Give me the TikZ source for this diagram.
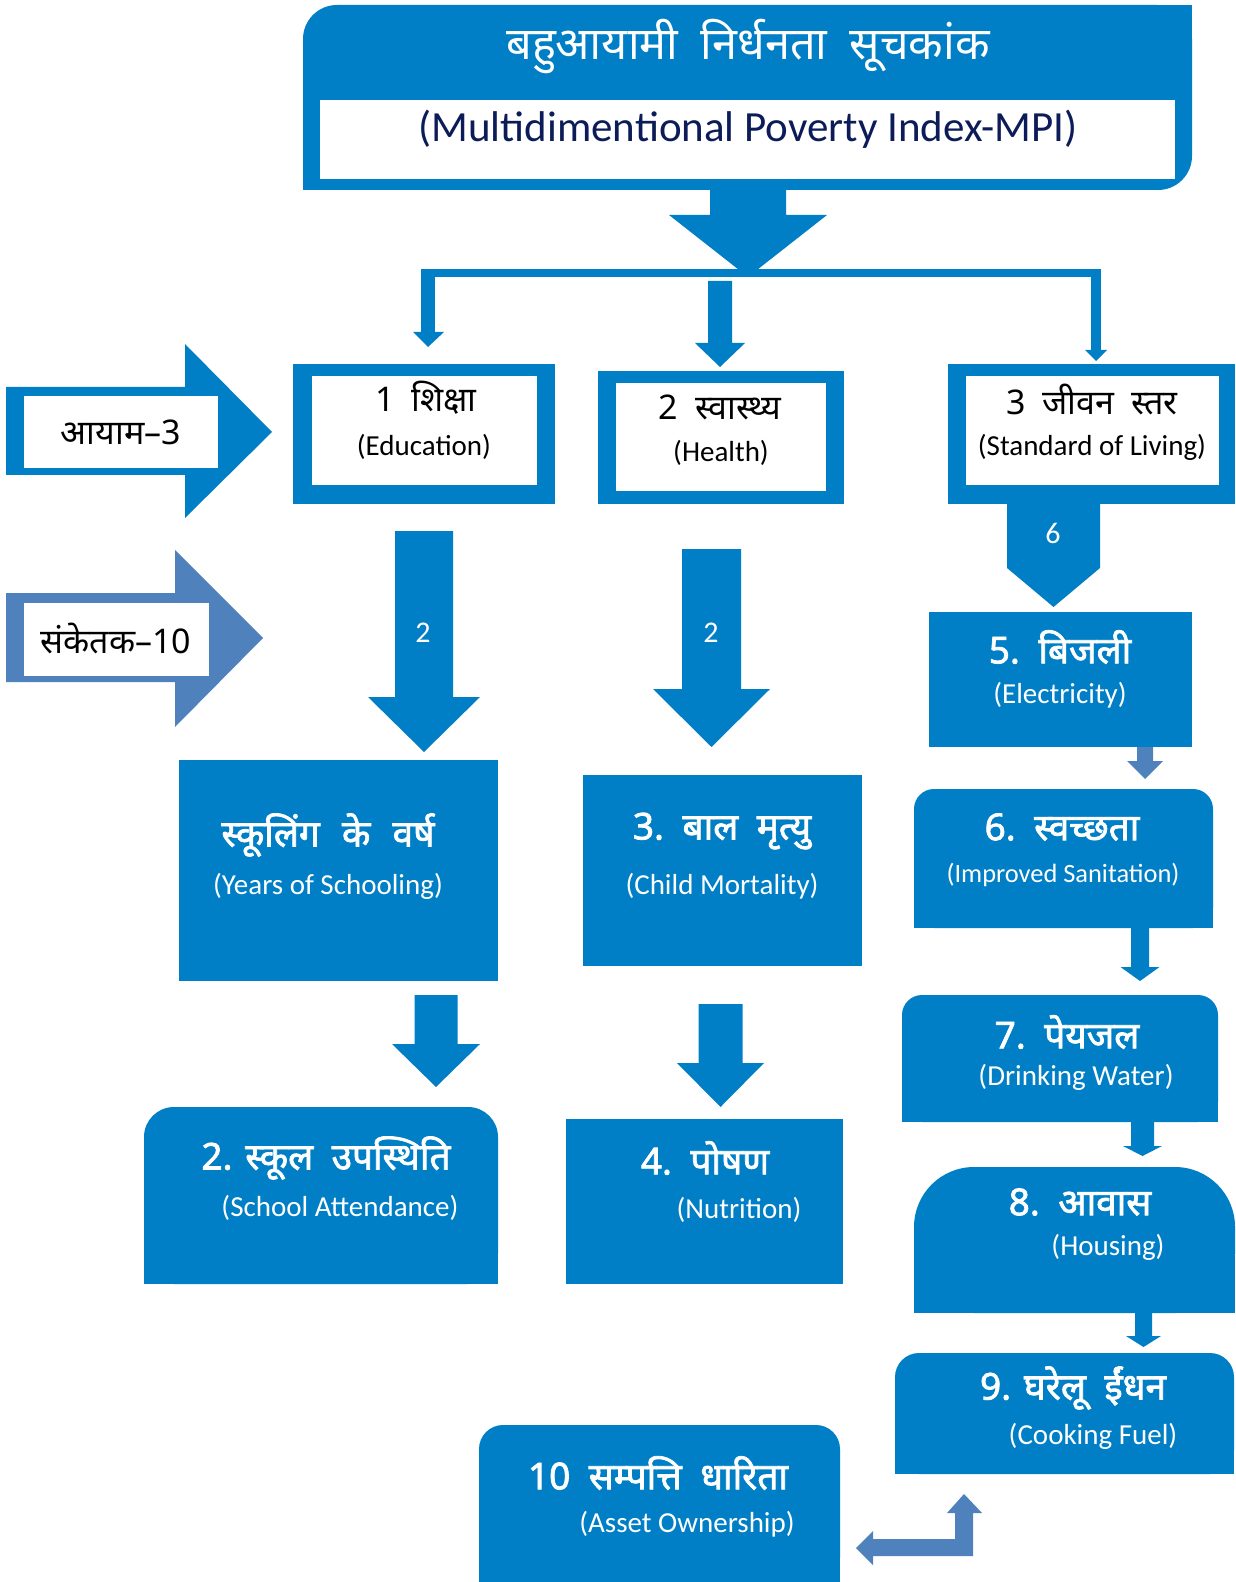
\documentclass[tikz,border=0pt]{standalone}
\usepackage{fontspec}
\setmainfont{Carlito}
\newfontfamily\dev[Script=Devanagari]{Noto Sans}
\newfontfamily\devb[Script=Devanagari,FakeBold=2]{Noto Sans}
\usetikzlibrary{fit}
\definecolor{mblue}{RGB}{0,127,198}
\definecolor{lblue}{RGB}{79,129,189}
\definecolor{navy}{RGB}{12,28,88}
\tikzset{
  box/.style={fill=mblue, inner sep=0pt, outer sep=0pt},
  lbox/.style={fill=lblue, inner sep=0pt, outer sep=0pt},
  wbox/.style={fill=white, inner sep=0pt, outer sep=0pt},
  en/.style={font=\fontsize{14.5}{16}\selectfont, inner sep=0pt, text=white},
  enb/.style={font=\fontsize{14.5}{16}\selectfont, inner sep=0pt, text=black},
  hd/.style={font=\devb\fontsize{18.5}{21}\selectfont, inner sep=0pt, text=white},
  hdb/.style={font=\dev\fontsize{17}{20}\selectfont, inner sep=0pt, text=black},
  num/.style={font=\fontsize{15}{17}\selectfont, inner sep=0pt, text=white},
}
\newcommand\dnarr[7]{\fill[#1] ({#2-#3},#5) -- ({#2+#3},#5) -- ({#2+#3},#6) -- ({#2+#4},#6) -- (#2,#7) -- ({#2-#4},#6) -- ({#2-#3},#6) -- cycle;}
\begin{document}
\begin{tikzpicture}[x=0.5pt,y=-0.5pt]
\useasboundingbox (0,0) rectangle (1235,1582);
% ---------- top box
\fill[mblue] (1150,5) rectangle (1192,60);
\fill[mblue] (303,150) rectangle (360,190);
\node[box, rounded corners=17pt, fit={(303,5) (1192,190)}] (top) {};
\node[wbox, fit={(320,100) (1175,179)}] (mpibox) {};
\node[font=\dev\fontsize{22.5}{26}\selectfont, text=white, inner sep=0pt] (title) at (748,46) {बहुआयामी\enspace निर्धनता\enspace सूचकांक};
\node[font=\fontsize{21.5}{24}\selectfont, text=navy, inner sep=0pt] (mpi) at (748,129) {(Multidimentional Poverty Index-MPI)};
% ---------- main arrow and bracket
\dnarr{mblue}{748}{38}{79}{188}{215}{277}
\fill[mblue] (421,269) rectangle (1101,277);
\fill[mblue] (421,269) rectangle (435,332);
\fill[mblue] (413,332) -- (444,332) -- (428,347) -- cycle;
\fill[mblue] (1091,269) rectangle (1101,350);
\fill[mblue] (1085,350) -- (1107,350) -- (1096,361) -- cycle;
\dnarr{mblue}{720}{12}{25}{281}{343}{367}
% ---------- left side arrows
\fill[mblue] (6,387) -- (185,387) -- (185,344) -- (272,432) -- (185,518) -- (185,475) -- (6,475) -- cycle;
\node[wbox, fit={(24,396) (218,468)}] (ayambox) {};
\node[hdb] (ayam) at (121,432) {आयाम–3};
\fill[lblue] (6,593) -- (175,593) -- (175,550) -- (263,638) -- (175,727) -- (175,682) -- (6,682) -- cycle;
\node[wbox, fit={(24,603) (209,676)}] (sanketbox) {};
\node[hdb] (sanket) at (116,639) {संकेतक–10};
% ---------- dimension boxes
\node[box, fit={(293,364) (555,504)}] (edu) {};
\node[wbox, fit={(312,376) (537,485)}] (eduin) {};
\node[hdb] (eduT) at (426,398) {1\enspace शिक्षा};
\node[enb] (eduE) at (424,447) {(Education)};
\node[box, fit={(598,371) (844,504)}] (hea) {};
\node[wbox, fit={(616,383) (826,491)}] (heain) {};
\node[hdb] (heaT) at (720,407) {2\enspace स्वास्थ्य};
\node[enb] (heaE) at (721,453) {(Health)};
\node[box, fit={(948,364) (1235,504)}] (std) {};
\node[wbox, fit={(966,376) (1219,485)}] (stdin) {};
\node[hdb] (stdT) at (1092,400) {3\enspace जीवन\enspace स्तर};
\node[enb] (stdE) at (1092,447) {(Standard of Living)};
% ---------- arrows below dimensions
\dnarr{mblue}{424}{29}{56}{531}{697}{752}
\node[num] (n2a) at (423,633) {2};
\dnarr{mblue}{711.5}{29.5}{58.5}{549}{689}{747}
\node[num] (n2b) at (711,633) {2};
\dnarr{mblue}{1053.5}{46.5}{46.5}{502}{568}{607}
\node[num] (n6) at (1053,533) {6};
% ---------- education column
\node[box, fit={(179,760) (498,981)}] (yrs) {};
\node[hd] (yrsT) at (328,835) {स्कूलिंग\hspace{0.6em}के\hspace{0.6em}वर्ष};
\node[en] (yrsE) at (328,886) {(Years of Schooling)};
\dnarr{mblue}{436}{21.5}{44}{995}{1044}{1087}
\fill[mblue] (144,1180) rectangle (498,1284);
\node[box, rounded corners=15pt, fit={(144,1107) (498,1284)}] (att) {};
\node[hd] (attT) at (326,1158) {2. स्कूल\enspace उपस्थिति};
\node[en] (attE) at (340,1208) {(School Attendance)};
% ---------- health column
\node[box, fit={(583,775) (862,966)}] (mor) {};
\node[hd] (morT) at (722,831) {3.\enspace बाल\enspace मृत्यु};
\node[en] (morE) at (722,886) {(Child Mortality)};
\dnarr{mblue}{720.5}{22}{43.5}{1004}{1063}{1107}
\node[box, fit={(566,1119) (843,1284)}] (nut) {};
\node[hd] (nutT) at (705,1158) {4.\enspace पोषण};
\node[en] (nutE) at (739,1210) {(Nutrition)};
% ---------- living standard column
\node[box, fit={(929,612) (1192,747)}] (ele) {};
\node[hd] (eleT) at (1060,647) {5.\enspace बिजली};
\node[en] (eleE) at (1060,695) {(Electricity)};
\dnarr{lblue}{1145}{8}{18}{747}{761}{779}
\fill[mblue] (914,850) rectangle (1213,928);
\node[box, rounded corners=10pt, fit={(914,789) (1213,928)}] (san) {};
\node[hd] (sanT) at (1062,827) {6.\enspace स्वच्छता};
\node[en, font=\fontsize{13.2}{15}\selectfont] (sanE) at (1063,875) {(Improved Sanitation)};
\dnarr{mblue}{1140}{9}{19.5}{928}{967}{981}
\fill[mblue] (902,1050) rectangle (1218,1122);
\node[box, rounded corners=10pt, fit={(902,995) (1218,1122)}] (wat) {};
\node[hd] (watT) at (1067,1032) {7.\enspace पेयजल};
\node[en] (watE) at (1076,1077) {(Drinking Water)};
\dnarr{mblue}{1142.5}{11.5}{19.5}{1122}{1146}{1156}
\fill[mblue] (914,1240) rectangle (1235,1313);
\node[box, rounded corners=30pt, fit={(914,1167) (1235,1313)}] (hou) {};
\node[hd] (houT) at (1080,1202) {8.\enspace आवास};
\node[en] (houE) at (1108,1247) {(Housing)};
\dnarr{mblue}{1143.5}{8.5}{17.5}{1313}{1336}{1347}
\fill[mblue] (895,1400) rectangle (1234,1474);
\node[box, rounded corners=12pt, fit={(895,1353) (1234,1474)}] (fue) {};
\node[hd] (fueT) at (1073,1388) {9. घरेलू\enspace ईंधन};
\node[en] (fueE) at (1093,1436) {(Cooking Fuel)};
% ---------- asset
\fill[mblue] (479,1480) rectangle (840,1582);
\node[box, rounded corners=12pt, fit={(479,1425) (840,1582)}] (ass) {};
\node[hd] (assT) at (658,1473) {10\enspace सम्पत्ति\enspace धारिता};
\node[en] (assE) at (687,1524) {(Asset Ownership)};
% ---------- return arrow
\fill[lblue] (964,1494) -- (982,1513) -- (973,1513) -- (973,1556) -- (873,1556) -- (873,1565) -- (856,1548) -- (873,1531) -- (873,1539) -- (955,1539) -- (955,1513) -- (947,1513) -- cycle;
\end{tikzpicture}
\end{document}
